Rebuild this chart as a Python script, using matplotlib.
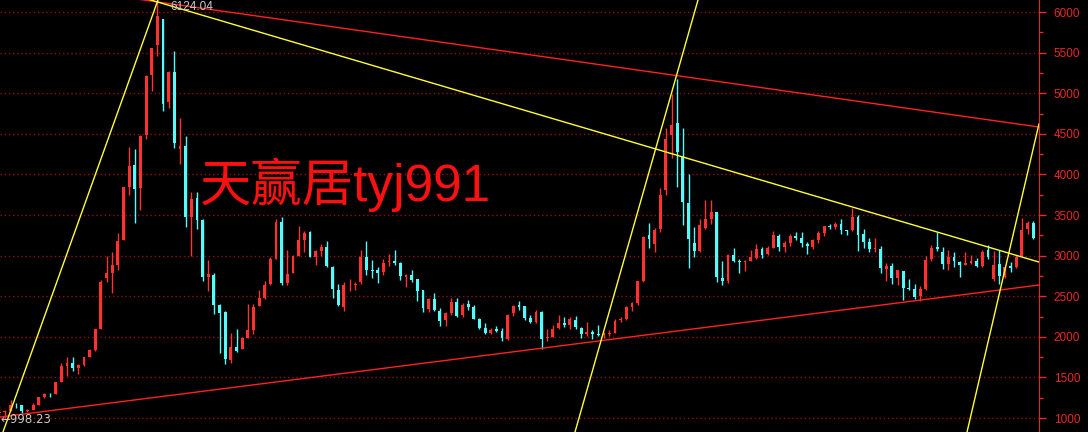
import matplotlib
matplotlib.use("Agg")
import matplotlib.pyplot as plt
import pandas as pd
from matplotlib.ticker import MultipleLocator

# ── monthly OHLC, Jun 2005 .. Sep 2020 ──────────────────────────────────────
opens = [
    1060, 1079, 1083, 1162, 1155, 1092, 1099,
    1163, 1260, 1299, 1300, 1444, 1641, 1672, 1612, 1658, 1752, 1837, 2099,
    2728, 2786, 2881, 3196, 3842, 4114, 3837, 4484, 5224, 5593, 5916, 4889,
    5265, 4318, 4345, 3472, 3713, 3433, 2741, 2767, 2398, 2302, 1720, 1879,
    1849, 1990, 2079, 2375, 2475, 2645, 2963, 3420, 2665, 2780, 3001, 3193,
    3289, 2981, 3055, 3111, 2860, 2580, 2373, 2637, 2634, 2674, 2988, 2826,
    2825, 2798, 2918, 2937, 2915, 2740, 2767, 2708, 2571, 2345, 2470, 2324,
    2212, 2288, 2430, 2265, 2408, 2365, 2224, 2104, 2043, 2093, 2069, 1972,
    2289, 2386, 2382, 2228, 2183, 2300, 1985, 1999, 2106, 2174, 2145, 2207,
    2112, 2035, 2054, 2040, 2022, 2040, 2049, 2204, 2216, 2365, 2418, 2688,
    3258, 3147, 3333, 3810, 4480, 4633, 4214, 3643, 3157, 3052, 3337, 3456,
    3536, 2730, 2685, 3002, 2937, 2917, 2931, 2970, 3086, 3017, 3098, 3243,
    3105, 3160, 3237, 3220, 3146, 3108, 3192, 3277, 3366, 3358, 3392, 3318,
    3314, 3479, 3263, 3163, 3082, 3084, 2838, 2876, 2721, 2813, 2597, 2592,
    2497, 2590, 2954, 3101, 3049, 2894, 2977, 2927, 2887, 2905, 2930, 2875,
    3067, 2716, 2899, 2732, 2867, 2858, 2991, 3322, 3402,
]
highs = [
    1146, 1098, 1223, 1185, 1161, 1107, 1180,
    1262, 1306, 1307, 1445, 1678, 1757, 1757, 1661, 1757, 1848, 2100, 2698,
    2995, 3050, 3275, 3841, 4335, 4312, 4480, 5219, 5562, 6124, 5917, 5272,
    5523, 4695, 4472, 3786, 3786, 3446, 2952, 2790, 2402, 2319, 2050, 2100,
    2000, 2402, 2403, 2579, 2688, 2986, 3454, 3478, 3068, 3010, 3361, 3306,
    3306, 3073, 3138, 3181, 2876, 2652, 2679, 2707, 2681, 3074, 3186, 2940,
    2860, 2955, 3019, 3067, 2926, 2775, 2826, 2710, 2572, 2484, 2536, 2353,
    2300, 2478, 2476, 2413, 2453, 2389, 2226, 2176, 2114, 2132, 2113, 2276,
    2398, 2444, 2384, 2268, 2334, 2315, 2092, 2150, 2270, 2242, 2245, 2260,
    2125, 2177, 2078, 2146, 2061, 2087, 2224, 2248, 2378, 2430, 2693, 3239,
    3406, 3344, 3836, 4572, 4986, 5178, 4572, 4006, 3357, 3457, 3679, 3684,
    3538, 2936, 3018, 3098, 2961, 2945, 3070, 3140, 3101, 3114, 3301, 3265,
    3174, 3261, 3295, 3295, 3167, 3202, 3301, 3371, 3391, 3418, 3450, 3319,
    3587, 3496, 3334, 3220, 3219, 3114, 2915, 2909, 2827, 2816, 2707, 2651,
    2630, 2997, 3129, 3288, 3101, 3070, 3048, 2928, 3042, 3004, 2970, 3064,
    3127, 3058, 3075, 2861, 2916, 3003, 3458, 3425, 3425,
]
lows = [
    998, 1004, 1081, 1125, 1067, 1074, 1094,
    1162, 1250, 1257, 1297, 1440, 1519, 1585, 1541, 1646, 1752, 1830, 2099,
    2680, 2542, 2818, 3196, 3750, 3404, 3563, 4442, 5032, 5462, 4778, 4812,
    4330, 4123, 3357, 2990, 3333, 2693, 2566, 2284, 1802, 1664, 1678, 1814,
    1845, 1990, 2037, 2375, 2461, 2640, 2957, 2639, 2639, 2780, 2998, 3039,
    2986, 2890, 2997, 2866, 2481, 2382, 2319, 2563, 2573, 2655, 2765, 2721,
    2661, 2767, 2869, 2890, 2704, 2610, 2680, 2437, 2307, 2307, 2319, 2135,
    2132, 2264, 2242, 2245, 2329, 2217, 2094, 2039, 2029, 2058, 1949, 1959,
    2259, 2336, 2206, 2165, 2175, 1849, 1951, 1992, 2097, 2122, 2098, 2100,
    1984, 2010, 1974, 2014, 1991, 2010, 2042, 2188, 2208, 2319, 2397, 2674,
    3095, 3050, 3292, 3742, 4199, 3847, 3373, 2850, 2983, 3039, 3323, 3391,
    2672, 2638, 2657, 2926, 2781, 2807, 2929, 2956, 2969, 3009, 3090, 3056,
    3044, 3123, 3187, 3111, 3016, 3080, 3153, 3236, 3327, 3333, 3262, 3254,
    3306, 3062, 3091, 3041, 3041, 2782, 2691, 2653, 2644, 2449, 2571, 2463,
    2440, 2581, 2930, 3059, 2839, 2822, 2862, 2733, 2881, 2891, 2857, 2857,
    2955, 2686, 2646, 2719, 2800, 2845, 2991, 3270, 3202,
]
closes = [
    1080, 1083, 1162, 1155, 1092, 1099, 1161,
    1258, 1299, 1298, 1440, 1641, 1672, 1612, 1658, 1752, 1837, 2099, 2675,
    2786, 2881, 3183, 3841, 4109, 3820, 4471, 5218, 5552, 5954, 4871, 5261,
    4383, 4348, 3473, 3693, 3433, 2736, 2775, 2397, 2293, 1729, 1871, 1821,
    1991, 2082, 2373, 2477, 2633, 2959, 3412, 2667, 2779, 2996, 3195, 3277,
    2989, 3051, 3110, 2870, 2592, 2398, 2638, 2638, 2655, 2979, 2820, 2808,
    2790, 2905, 2928, 2911, 2743, 2762, 2701, 2568, 2359, 2468, 2333, 2199,
    2292, 2428, 2262, 2396, 2373, 2225, 2103, 2047, 2086, 2069, 1980, 2269,
    2385, 2365, 2237, 2177, 2300, 1979, 1994, 2098, 2175, 2141, 2220, 2116,
    2033, 2056, 2033, 2026, 2039, 2048, 2201, 2217, 2364, 2420, 2683, 3235,
    3210, 3310, 3748, 4441, 4612, 4277, 3664, 3206, 3053, 3383, 3445, 3539,
    2738, 2688, 3004, 2938, 2917, 2930, 2979, 3085, 3005, 3100, 3250, 3104,
    3159, 3242, 3223, 3155, 3117, 3192, 3273, 3361, 3349, 3393, 3317, 3307,
    3481, 3259, 3169, 3082, 3095, 2847, 2876, 2725, 2821, 2603, 2588, 2494,
    2585, 2941, 3091, 3078, 2899, 2979, 2933, 2886, 2905, 2929, 2872, 3050,
    2977, 2880, 2750, 2860, 2852, 2985, 3310, 3396, 3218,
]
months = pd.date_range("2005-06-01", periods=len(closes), freq="MS")

# hand-drawn trend lines: (year, price) end points
red_lines = [((2007.39, 6172), (2020.794, 4584)),    # top: 2007 peak -> 2015 peak
             ((2005.47, 1012), (2020.794, 2638))]    # bottom support
yellow_lines = [((2007.58, 6176), (2020.794, 2921)),  # falling from 2007 peak
                ((2005.514, 828), (2007.80, 6148)),   # run-up into 2007
                ((2013.951, 828), (2015.765, 6148)),  # run-up into 2015
                ((2019.733, 828), (2020.794, 4621))]  # 2020 leg

PEAK_LABEL, LOW_LABEL = "6124.04", "998.23"
WATERMARK = "天赢居tyj991"

UP, DOWN = "#FF3232", "#54FCFC"

# ── chart ─────────────────────────────────────────────────────────────────────
xpos = months.year + (months.month - 0.5) / 12
fig = plt.figure(figsize=(10.88, 4.32), dpi=100, facecolor="black")
ax = fig.add_axes([0, 0, 1039 / 1088, 1], facecolor="black")

for x, o, h, l, c in zip(xpos, opens, highs, lows, closes):
    col = UP if c >= o else DOWN
    ax.vlines(x, l, h, color=col, lw=1.0, zorder=3)
    ax.bar(x, max(abs(c - o), 4), bottom=min(o, c), width=0.042, color=col, lw=0, zorder=3)

for (x0, y0), (x1, y1) in red_lines:
    ax.plot([x0, x1], [y0, y1], color="#FF2020", lw=1.0, zorder=4)
for (x0, y0), (x1, y1) in yellow_lines:
    ax.plot([x0, x1], [y0, y1], color="#FFFF33", lw=1.0, zorder=4)

ax.text(2007.98, 6060, PEAK_LABEL, color="#C8C8C8", fontsize=8.5, va="center",
        family=["Liberation Sans", "DejaVu Sans"], zorder=5)
ax.text(2005.47, 985, "←" + LOW_LABEL, color="#C8C8C8", fontsize=8.5, va="center",
        family=["DejaVu Sans"], zorder=5)
ax.text(2008.42, 3870, WATERMARK, color="#FF1010", fontsize=37, va="center",
        family=["Liberation Sans", "Noto Sans CJK SC"], zorder=6)

ax.set_xlim(2005.47, 2005.47 + 1039 / 67.8)
ax.set_ylim(828, 6148)
ax.yaxis.set_major_locator(MultipleLocator(500))
ax.yaxis.set_minor_locator(MultipleLocator(250))
ax.yaxis.tick_right()
ax.tick_params(axis="y", which="major", colors="#E82828", length=5, width=1,
               labelsize=8.5, pad=5.5)
ax.tick_params(axis="y", which="minor", colors="#E82828", length=3, width=1)
for lab in ax.get_yticklabels():
    lab.set_family("Liberation Sans")
ax.set_xticks([])
for s in ("left", "top", "bottom"):
    ax.spines[s].set_visible(False)
ax.spines["right"].set_color("#E02828")
ax.grid(axis="y", which="major", color="#901010", ls=(0, (1, 2)), lw=1.0, zorder=1)

fig.savefig("out.png", dpi=100, facecolor="black")
